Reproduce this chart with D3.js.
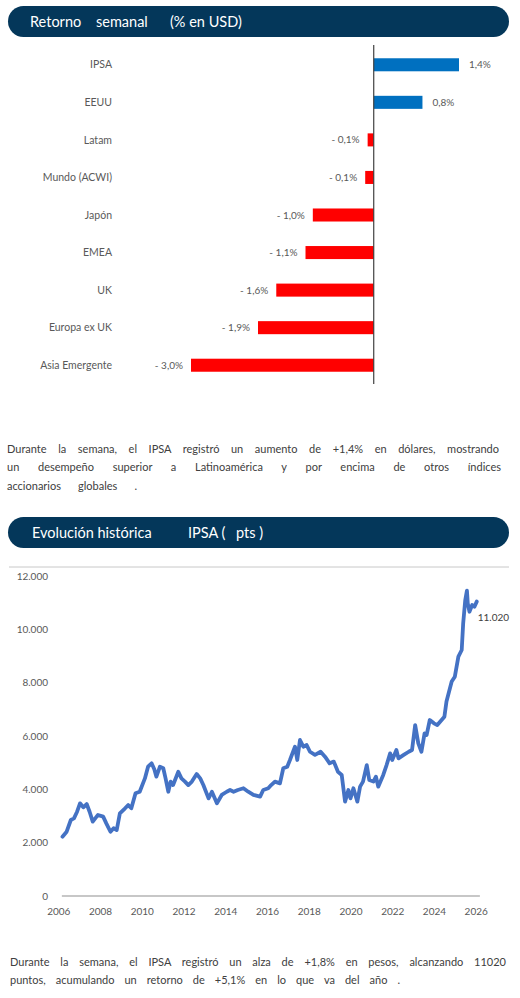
<!DOCTYPE html>
<html>
<head>
<meta charset="utf-8">
<script src="https://cdnjs.cloudflare.com/ajax/libs/d3/7.8.5/d3.min.js"></script>
<style>
  body { margin: 0; background: #fff; }
  svg { display: block; }
</style>
</head>
<body>
<div id="page"></div>
<script>

// retorno semanal (% en USD)
var regions = ["IPSA", "EEUU", "Latam", "Mundo (ACWI)", "Japón", "EMEA", "UK", "Europa ex UK", "Asia Emergente"];
var weekly = [1.4, 0.8, -0.1, -0.14, -1.0, -1.12, -1.6, -1.9, -3.0];

// IPSA historico (pts)
var years = [2006.2, 2006.4, 2006.6, 2006.75, 2006.9, 2007.04, 2007.2, 2007.36, 2007.5, 2007.65,
  2007.9, 2008.15, 2008.3, 2008.5, 2008.65, 2008.8, 2008.95, 2009.2, 2009.35, 2009.5,
  2009.7, 2009.9, 2010.15, 2010.3, 2010.47, 2010.6, 2010.7, 2010.87, 2011.03, 2011.14,
  2011.27, 2011.38, 2011.5, 2011.75, 2011.9, 2012.07, 2012.23, 2012.4, 2012.63, 2012.8,
  2012.95, 2013.2, 2013.36, 2013.6, 2013.83, 2014.07, 2014.23, 2014.4, 2014.6, 2014.87,
  2015.1, 2015.35, 2015.67, 2015.82, 2016.06, 2016.2, 2016.38, 2016.62, 2016.78, 2016.97,
  2017.1, 2017.34, 2017.45, 2017.58, 2017.74, 2017.9, 2018.06, 2018.3, 2018.57, 2018.78,
  2019.0, 2019.2, 2019.4, 2019.58, 2019.74, 2019.9, 2020.0, 2020.14, 2020.33, 2020.46,
  2020.6, 2020.78, 2020.9, 2021.1, 2021.22, 2021.33, 2021.57, 2021.73, 2021.9, 2022.0,
  2022.2, 2022.3, 2022.55, 2022.79, 2022.95, 2023.1, 2023.25, 2023.4, 2023.55, 2023.65,
  2023.8, 2024.0, 2024.16, 2024.5, 2024.6, 2024.85, 2025.0, 2025.17, 2025.33, 2025.4,
  2025.5, 2025.58, 2025.62, 2025.7, 2025.83, 2025.94, 2026.05];
var ipsa = [2225, 2410, 2850, 2910, 3160, 3475, 3325, 3450, 3160, 2790,
  3040, 2975, 2725, 2410, 2540, 2475, 3100, 3290, 3410, 3290,
  3850, 3910, 4410, 4850, 4975, 4750, 4475, 4850, 4790, 4410,
  3910, 4290, 4160, 4660, 4410, 4290, 4160, 4290, 4575, 4410,
  4160, 3660, 3910, 3475, 3790, 3910, 3975, 3910, 3975, 4040,
  3910, 3790, 3725, 3975, 4040, 4160, 4290, 4225, 4790, 4850,
  5100, 5600, 5100, 5850, 5600, 5660, 5410, 5290, 5410, 5225,
  4975, 5040, 4660, 4540, 3540, 3975, 3660, 4040, 3540, 4100,
  4290, 4910, 4350, 4290, 4475, 4100, 4540, 4910, 5350, 5100,
  5475, 5160, 5290, 5410, 5475, 6410, 5725, 5410, 6100, 6040,
  6600, 6475, 6410, 6725, 7290, 8040, 8225, 8975, 9225, 10225,
  11100, 11450, 10975, 10660, 10910, 10850, 11040];
var yTicks = [0, 2000, 4000, 6000, 8000, 10000, 12000];
var xTicks = [2006, 2008, 2010, 2012, 2014, 2016, 2018, 2020, 2022, 2024, 2026];
var lastLabel = "11.020";

var text1 = ["Durante la semana, el IPSA registró un aumento de +1,4% en dólares, mostrando",
  "un desempeño superior a Latinoamérica y por encima de otros índices",
  "accionarios globales ."];
var text2 = ["Durante la semana, el IPSA registró un alza de +1,8% en pesos, alcanzando 11020",
  "puntos, acumulando un retorno de +5,1% en lo que va del año ."];

var font = "Lato, 'Open Sans', sans-serif";
var navy = "#04375a";
var grey = "#595959";

var svg = d3.select("#page").append("svg")
  .attr("width", 520)
  .attr("height", 998)
  .attr("font-family", font);

function header(y, parts) {
  svg.append("rect")
    .attr("x", 8).attr("y", y)
    .attr("width", 501).attr("height", 31)
    .attr("rx", 15.5)
    .attr("fill", navy);
  parts.forEach(function(p) {
    svg.append("text")
      .attr("x", p[0]).attr("y", y + 15.5)
      .attr("dy", "0.35em")
      .attr("fill", "#fff")
      .attr("font-size", 14.5)
      .text(p[1]);
  });
}

// justified lines: spread the gap over the spaces only
function paragraph(y0, lines, widths, x0) {
  lines.forEach(function(l, i) {
    var t = svg.append("text")
      .attr("x", x0).attr("y", y0 + i * 18.5)
      .attr("dy", "0.35em")
      .attr("font-size", 11)
      .attr("fill", "#404040")
      .text(l);
    var gaps = l.split(" ").length - 1;
    var extra = widths[i] - t.node().getComputedTextLength();
    if (gaps > 0 && extra > 0) t.attr("word-spacing", extra / gaps);
  });
}

//----- bar chart
header(6, [[30, "Retorno"], [96, "semanal"], [170, "(% en USD)"]]);

var x = d3.scaleLinear()
  .domain([-3, 1.4])
  .range([191, 459]);

var y = d3.scaleBand()
  .domain(regions)
  .range([46, 384])
  .paddingInner(0.653)
  .paddingOuter(0.3265);

var fmt = function(v) {
  var s = d3.format(".1f")(Math.abs(v)).replace(".", ",") + "%";
  return v < 0 ? "- " + s : s;
};

var bars = svg.append("g");

bars.selectAll("rect")
  .data(weekly)
  .enter().append("rect")
    .attr("x", function(d) { return x(Math.min(0, d)); })
    .attr("y", function(d, i) { return y(regions[i]); })
    .attr("width", function(d) { return Math.abs(x(d) - x(0)); })
    .attr("height", y.bandwidth())
    .attr("fill", function(d) { return d >= 0 ? "#0070c0" : "#ff0000"; });

bars.selectAll(".val")
  .data(weekly)
  .enter().append("text")
    .attr("class", "val")
    .attr("x", function(d) { return d >= 0 ? x(d) + 10 : x(d) - 8; })
    .attr("y", function(d, i) { return y(regions[i]) + y.bandwidth() / 2; })
    .attr("dy", "0.35em")
    .attr("text-anchor", function(d) { return d >= 0 ? "start" : "end"; })
    .attr("font-size", 10)
    .attr("fill", grey)
    .text(fmt);

bars.selectAll(".cat")
  .data(regions)
  .enter().append("text")
    .attr("class", "cat")
    .attr("x", 112)
    .attr("y", function(d) { return y(d) + y.bandwidth() / 2; })
    .attr("dy", "0.35em")
    .attr("text-anchor", "end")
    .attr("font-size", 10.5)
    .attr("fill", grey)
    .text(function(d) { return d; });

// zero axis
bars.append("line")
  .attr("x1", x(0)).attr("x2", x(0))
  .attr("y1", 45).attr("y2", 384)
  .attr("stroke", "#404040")
  .attr("stroke-width", 1.2);

paragraph(449, text1, [492, 494, 130], 7);

//----- line chart
header(517, [[32, "Evolución histórica"], [188, "IPSA ("], [236, "pts )"]]);

var lx = d3.scaleLinear()
  .domain([2006, 2026])
  .range([58.3, 475.7]);

var ly = d3.scaleLinear()
  .domain([0, 12000])
  .range([896, 576]);

// chart top border
svg.append("line")
  .attr("x1", 9).attr("x2", 509)
  .attr("y1", 567).attr("y2", 567)
  .attr("stroke", "#c8c8c8")
  .attr("stroke-width", 1);

var yAxis = svg.append("g")
  .attr("transform", "translate(48,0)")
  .call(d3.axisLeft(ly).tickValues(yTicks).tickSize(0).tickPadding(0)
    .tickFormat(function(d) { return d3.format(",")(d).replace(/,/g, "."); }));
yAxis.select(".domain").remove();
yAxis.selectAll("text")
  .attr("font-family", font)
  .attr("font-size", 10)
  .attr("fill", grey);

var xAxis = svg.append("g")
  .attr("transform", "translate(0,896)")
  .call(d3.axisBottom(lx).tickValues(xTicks).tickSize(0).tickPadding(12)
    .tickFormat(d3.format("d")));
xAxis.select(".domain").remove();
xAxis.selectAll("text")
  .attr("font-family", font)
  .attr("font-size", 10)
  .attr("fill", grey);

svg.append("line")
  .attr("x1", lx(2006.17)).attr("x2", lx(2026.2))
  .attr("y1", ly(0)).attr("y2", ly(0))
  .attr("stroke", "#b4b4b4")
  .attr("stroke-width", 1.5);

var line = d3.line()
  .x(function(d, i) { return lx(years[i]); })
  .y(function(d) { return ly(d); });

svg.append("path")
  .datum(ipsa)
  .attr("d", line)
  .attr("fill", "none")
  .attr("stroke", "#4472c4")
  .attr("stroke-width", 3.8)
  .attr("stroke-linejoin", "round")
  .attr("stroke-linecap", "round");

svg.append("text")
  .attr("x", lx(years[years.length - 1]) + 1)
  .attr("y", ly(ipsa[ipsa.length - 1]) + 16)
  .attr("dy", "0.35em")
  .attr("font-size", 10)
  .attr("fill", "#404040")
  .text(lastLabel);

paragraph(962, text2, [496, 390], 10);

</script>
</body>
</html>
